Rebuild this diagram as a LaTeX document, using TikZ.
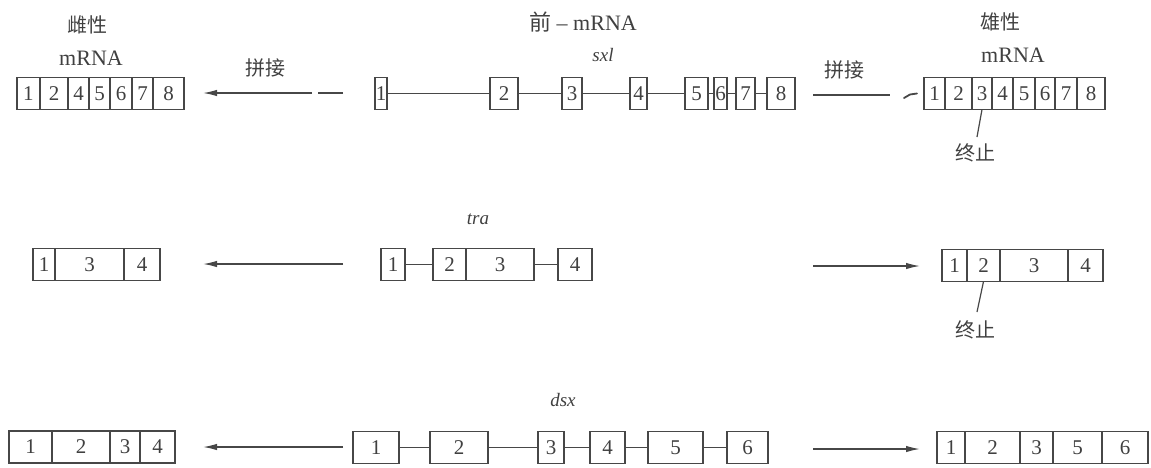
\documentclass[tikz,border=0pt]{standalone}
\usepackage{fontspec}
\setmainfont{Liberation Serif}
\newfontfamily\cjk{Noto Sans CJK SC}
\usetikzlibrary{arrows.meta}

\begin{document}
\begin{tikzpicture}[x=1pt,y=-1pt,
  ink/.style={draw=black!72, line width=1.4pt},
  cell/.style={draw=black!72, line width=1.2pt, minimum height=32pt, inner sep=0pt,
    outer sep=0pt, anchor=west, font=\fontsize{21}{24}\selectfont, text=black!75},
  lbl/.style={text=black!75, inner sep=0pt, font=\fontsize{22}{26}\selectfont},
  zh/.style={text=black!75, inner sep=0pt, font=\cjk\fontsize{20}{24}\selectfont},
  gene/.style={text=black!75, inner sep=0pt, font=\itshape\fontsize{19}{22}\selectfont},
  arr/.style={draw=black!72, line width=1.4pt, -{Latex[length=14pt,width=6.5pt]}},
  seg/.style={draw=black!72, line width=1.4pt}]

\useasboundingbox (0,0) rectangle (1151,467);

% ---------------- sxl ----------------
\node[zh]   (fem)  at (87,25) {雌性};
\node[lbl]  (femm) at (91,58) {mRNA};
\node[zh]   (spl1) at (265,68) {拼接};
\node[lbl]  (pre)  at (583,22) {{\cjk 前} – mRNA};
\node[gene] (sxl)  at (603,55) {sxl};
\node[zh]   (spl2) at (844,70) {拼接};
\node[zh]   (mal)  at (1000,22) {雄性};
\node[lbl]  (malm) at (1013,55) {mRNA};

% female mRNA
\node[cell, minimum width=23pt] (fA1) at (17,93.5) {1};
\node[cell, minimum width=28pt] (fA2) at (fA1.east) {2};
\node[cell, minimum width=21pt] (fA3) at (fA2.east) {4};
\node[cell, minimum width=21pt] (fA4) at (fA3.east) {5};
\node[cell, minimum width=22pt] (fA5) at (fA4.east) {6};
\node[cell, minimum width=21pt] (fA6) at (fA5.east) {7};
\node[cell, minimum width=31pt] (fA7) at (fA6.east) {8};

% pre-mRNA exons
\node[cell, minimum width=12pt] (pA1) at (375,93.5) {1};
\node[cell, minimum width=28pt] (pA2) at (490,93.5) {2};
\node[cell, minimum width=20pt] (pA3) at (562,93.5) {3};
\node[cell, minimum width=17pt] (pA4) at (630,93.5) {4};
\node[cell, minimum width=23pt] (pA5) at (685,93.5) {5};
\node[cell, minimum width=13pt] (pA6) at (714,93.5) {6};
\node[cell, minimum width=19pt] (pA7) at (736,93.5) {7};
\node[cell, minimum width=28pt] (pA8) at (767,93.5) {8};
\foreach \a/\b in {pA1/pA2,pA2/pA3,pA3/pA4,pA4/pA5,pA5/pA6,pA6/pA7,pA7/pA8}
  \draw[ink] (\a.east) -- (\b.west);

% male mRNA
\node[cell, minimum width=21pt] (mA1) at (924,93.5) {1};
\node[cell, minimum width=27pt] (mA2) at (mA1.east) {2};
\node[cell, minimum width=20pt] (mA3) at (mA2.east) {3};
\node[cell, minimum width=21pt] (mA4) at (mA3.east) {4};
\node[cell, minimum width=22pt] (mA5) at (mA4.east) {5};
\node[cell, minimum width=20pt] (mA6) at (mA5.east) {6};
\node[cell, minimum width=22pt] (mA7) at (mA6.east) {7};
\node[cell, minimum width=28pt] (mA8) at (mA7.east) {8};

% splicing arrows
\coordinate (lA1) at (343,93);
\coordinate (lA2) at (318,93);
\coordinate (lA3) at (312,93);
\coordinate (lA4) at (203,93);
\draw[seg] (lA1) -- (lA2);
\draw[arr] (lA3) -- (lA4);
\coordinate (rA1) at (813,95);
\coordinate (rA2) at (890,95);
\draw[seg] (rA1) -- (rA2);
\coordinate (rA3) at (904,98);
\coordinate (rA4) at (910,94.5);
\coordinate (rA5) at (917,93.5);
\draw[seg, line width=1.8pt, line cap=round] (rA3) -- (rA4) -- (rA5);

% stop codon
\node[zh] (stA) at (975,153) {终止};
\coordinate (stAe) at (977,137);
\draw[ink, line width=1.2pt] (mA3.south) -- (stAe);

% ---------------- tra ----------------
\node[gene] (tra) at (478,219) {tra};

\node[cell, minimum width=22pt] (fB1) at (33,264.5) {1};
\node[cell, minimum width=69pt] (fB2) at (fB1.east) {3};
\node[cell, minimum width=36pt] (fB3) at (fB2.east) {4};

\node[cell, minimum width=24pt] (pB1) at (381,264.5) {1};
\node[cell, minimum width=33pt] (pB2) at (433,264.5) {2};
\node[cell, minimum width=68pt] (pB3) at (pB2.east) {3};
\node[cell, minimum width=34pt] (pB4) at (558,264.5) {4};
\draw[ink] (pB1.east) -- (pB2.west);
\draw[ink] (pB3.east) -- (pB4.west);

\node[cell, minimum width=25pt] (mB1) at (942,265.5) {1};
\node[cell, minimum width=33pt] (mB2) at (mB1.east) {2};
\node[cell, minimum width=68pt] (mB3) at (mB2.east) {3};
\node[cell, minimum width=35pt] (mB4) at (mB3.east) {4};

\coordinate (lB1) at (343,264);
\coordinate (lB2) at (203,264);
\draw[arr] (lB1) -- (lB2);
\coordinate (rB1) at (813,266);
\coordinate (rB2) at (920,266);
\draw[arr] (rB1) -- (rB2);

\node[zh] (stB) at (975,330) {终止};
\coordinate (stBe) at (977,312);
\draw[ink, line width=1.2pt] (mB2.south) -- (stBe);

% ---------------- dsx ----------------
\node[gene] (dsx) at (563,400) {dsx};

\node[cell, minimum width=43pt] (fC1) at (9,447) {1};
\node[cell, minimum width=58pt] (fC2) at (fC1.east) {2};
\node[cell, minimum width=30pt] (fC3) at (fC2.east) {3};
\node[cell, minimum width=35pt] (fC4) at (fC3.east) {4};

\node[cell, minimum width=46pt] (pC1) at (353,447.5) {1};
\node[cell, minimum width=58pt] (pC2) at (430,447.5) {2};
\node[cell, minimum width=26pt] (pC3) at (538,447.5) {3};
\node[cell, minimum width=35pt] (pC4) at (590,447.5) {4};
\node[cell, minimum width=55pt] (pC5) at (648,447.5) {5};
\node[cell, minimum width=41pt] (pC6) at (727,447.5) {6};
\foreach \a/\b in {pC1/pC2,pC2/pC3,pC3/pC4,pC4/pC5,pC5/pC6}
  \draw[ink] (\a.east) -- (\b.west);

\node[cell, minimum width=28pt] (mC1) at (937,447.5) {1};
\node[cell, minimum width=55pt] (mC2) at (mC1.east) {2};
\node[cell, minimum width=33pt] (mC3) at (mC2.east) {3};
\node[cell, minimum width=49pt] (mC4) at (mC3.east) {5};
\node[cell, minimum width=46pt] (mC5) at (mC4.east) {6};

\coordinate (lC1) at (343,447);
\coordinate (lC2) at (203,447);
\draw[arr] (lC1) -- (lC2);
\coordinate (rC1) at (813,449);
\coordinate (rC2) at (920,449);
\draw[arr] (rC1) -- (rC2);

\end{tikzpicture}
\end{document}
